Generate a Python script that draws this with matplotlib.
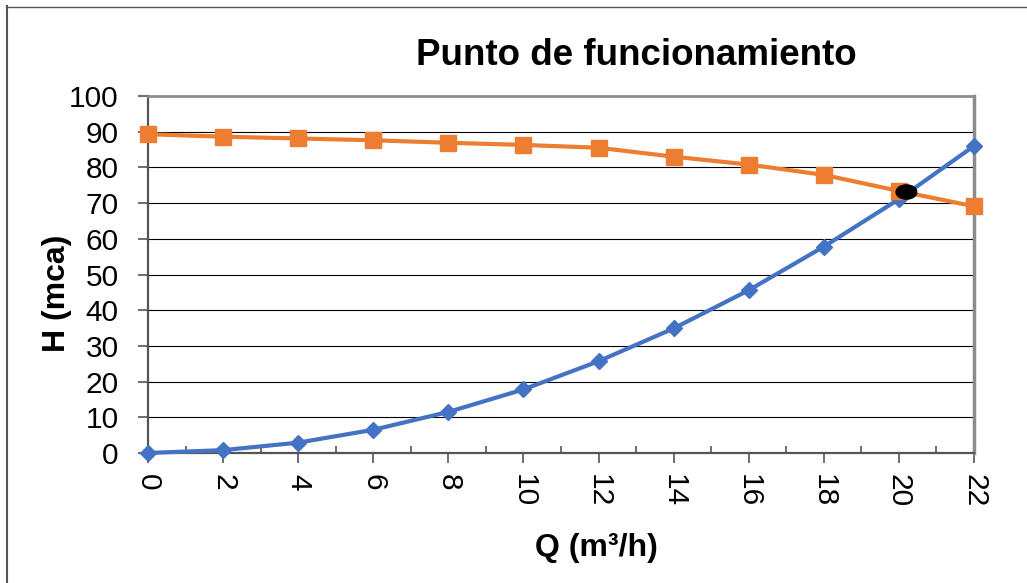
import matplotlib
import matplotlib.pyplot as plt
from matplotlib.lines import Line2D
from matplotlib.patches import Ellipse
from matplotlib.ticker import MultipleLocator

matplotlib.use('Agg')
plt.rcParams['font.family'] = ['Liberation Sans', 'DejaVu Sans']

# caudal (m3/h)
q = [0, 2, 4, 6, 8, 10, 12, 14, 16, 18, 20, 22]
# curva de la bomba (mca)
h_bomba = [89.3, 88.6, 88.1, 87.6, 86.9, 86.3, 85.5, 83.0, 80.8, 77.9, 73.4, 69.1]
# curva del sistema (mca)
h_sistema = [0.0, 0.8, 2.9, 6.5, 11.5, 17.8, 25.7, 34.9, 45.6, 57.8, 71.1, 86.0]
# punto de funcionamiento
q_pf = 20.2
h_pf = 73.1

W, H = 1027, 583
fig = plt.figure(figsize=(W / 100, H / 100), dpi=100)
ax = fig.add_axes([148 / W, 1 - 453 / H, (974 - 148) / W, (453 - 96) / H])

ax.plot(q, h_sistema, color='#4472C4', lw=3, marker='D', ms=8.5, zorder=7, clip_on=False)
ax.plot(q, h_bomba, color='#ED7D31', lw=3, marker='s', ms=12, zorder=8, clip_on=False)
ax.add_patch(Ellipse((q_pf, h_pf), 0.55, 4.0, color='black', zorder=9))

ax.set_xlim(0, 22)
ax.set_ylim(0, 100)
ax.xaxis.set_major_locator(MultipleLocator(2))
ax.xaxis.set_minor_locator(MultipleLocator(1))
ax.yaxis.set_major_locator(MultipleLocator(10))

ax.grid(axis='y', color='black', lw=0.8, zorder=1)
ax.set_axisbelow(True)

for s in ['left', 'bottom']:
    ax.spines[s].set_color('#555555')
    ax.spines[s].set_linewidth(1.6)
ax.spines['top'].set_color('#8c8c8c')
ax.spines['top'].set_linewidth(2)
ax.spines['right'].set_color('#8c8c8c')
ax.spines['right'].set_linewidth(2.5)
for s in ax.spines.values():
    s.set_zorder(6)

ax.tick_params(axis='y', which='major', direction='out', length=7, width=1.2,
               color='#555555', labelsize=21.5, pad=14)
ax.tick_params(axis='x', which='major', direction='out', length=7, width=1.2,
               color='#555555', labelsize=21.5, pad=8, labelrotation=270)
ax.tick_params(axis='x', which='minor', direction='in', length=5, width=1.2,
               color='#555555')
for lbl in ax.get_xticklabels():
    lbl.set_va('top')
    lbl.set_ha('center')

fig.text(636 / W, 1 - 65 / H, 'Punto de funcionamiento', ha='center', va='baseline',
         fontsize=26.5, fontweight='bold')
fig.text(57 / W, 1 - 293 / H, 'H (mca)', ha='center', va='center', rotation=90,
         fontsize=23, fontweight='bold')
fig.text(596 / W, 1 - 548 / H, 'Q (m\u00b3/h)', ha='center', va='center',
         fontsize=23, fontweight='bold')

# marco del grafico
fig.add_artist(Line2D([6.5 / W, 6.5 / W], [0, 1 - 6 / H], color='#555555', lw=1.5))
fig.add_artist(Line2D([6 / W, 1], [1 - 6.5 / H, 1 - 6.5 / H], color='#555555', lw=1))

fig.savefig('out.png', dpi=100)
